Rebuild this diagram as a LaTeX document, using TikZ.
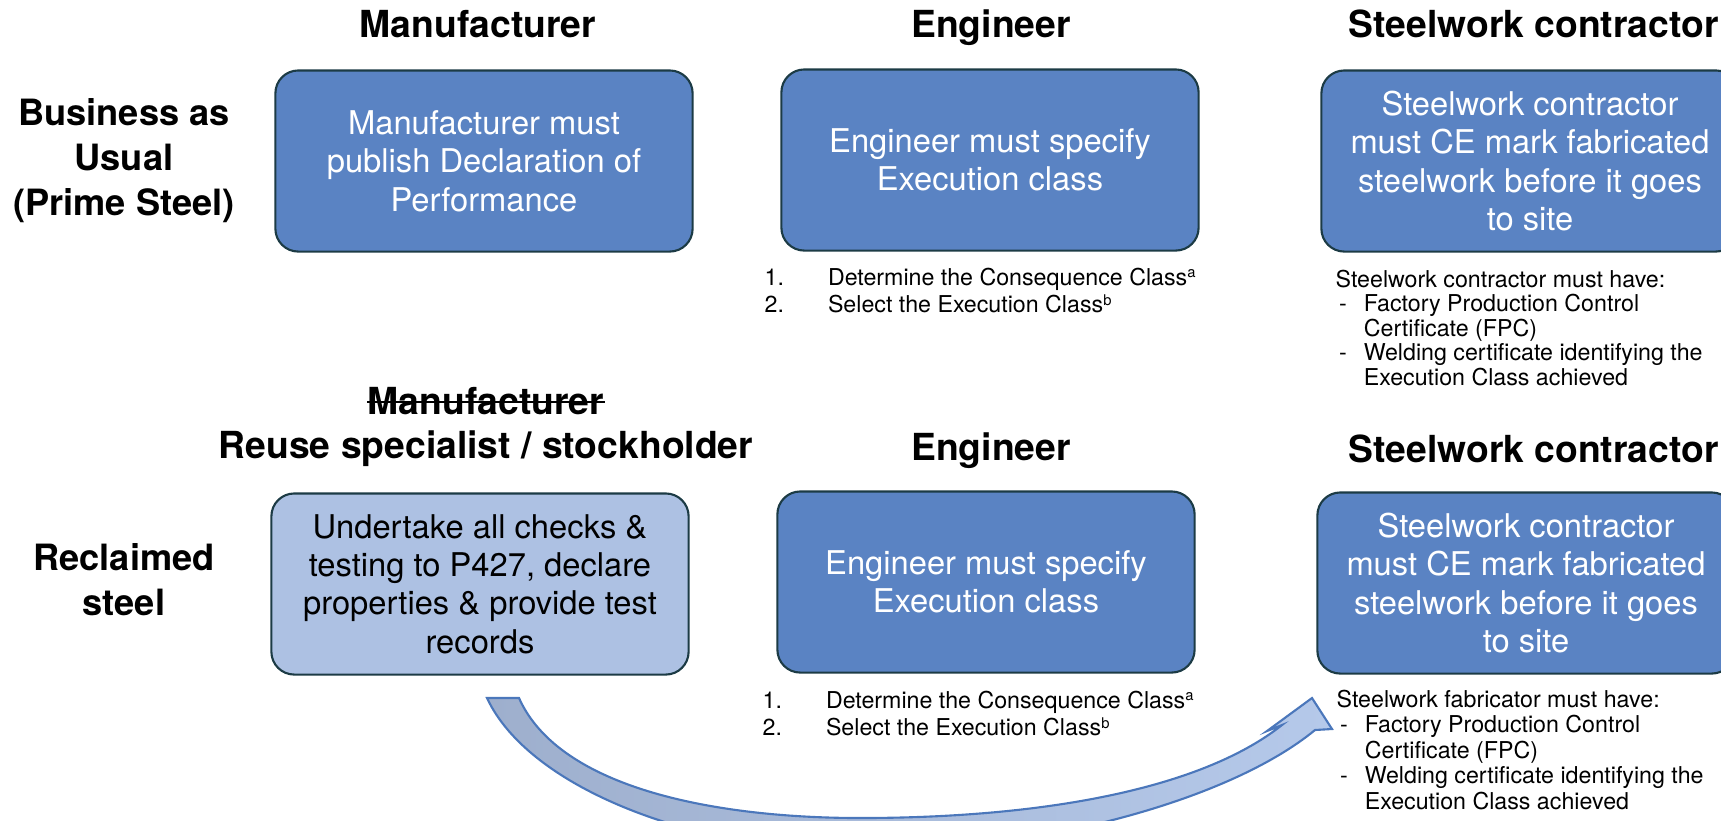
\documentclass[tikz,border=0pt]{standalone}
\usepackage{fontspec}
\setmainfont{TeX Gyre Heros}

\definecolor{boxblue}{HTML}{5A83C3}
\definecolor{boxpale}{HTML}{ADC1E3}
\definecolor{boxedge}{HTML}{1C3B45}
\definecolor{arrowedge}{HTML}{4B77BB}
\definecolor{arrowdark}{HTML}{9EAFCD}
\definecolor{arrowlight}{HTML}{B5C9EA}

\newcommand{\notesup}[1]{\raisebox{0.32em}{\fontsize{4.2}{4.2}\selectfont #1}}

\begin{document}
\begin{tikzpicture}[x=0.01cm, y=-0.01cm,
  heading/.style={font=\fontsize{10.6}{12.7}\selectfont\bfseries, inner sep=0pt, anchor=base},
  rowlabel/.style={font=\fontsize{10.3}{12.8}\selectfont\bfseries, align=center, inner sep=0pt},
  stepbox/.style={draw=boxedge, line width=0.6pt, fill=boxblue, rounded corners=6.5pt,
    text=white, align=center, minimum width=4.17cm, minimum height=1.81cm, inner sep=0pt,
    font=\fontsize{9.3}{10.9}\selectfont},
  palebox/.style={stepbox, fill=boxpale, text=black},
  note/.style={font=\fontsize{6.6}{7.0}\selectfont, align=left, inner sep=0pt, anchor=north west},
  listnote/.style={note, font=\fontsize{6.6}{7.9}\selectfont}]
  \useasboundingbox (0,0) rectangle (1721,820);

  % Column headings, top row
  \node[heading] (mfr) at (478,37) {Manufacturer};
  \node[heading] (eng) at (991,37) {Engineer};
  \node[heading, anchor=base west] (swc) at (1348,37) {Steelwork contractor};

  % Business as usual row
  \node[rowlabel] (bau) at (124,161) {Business as\\Usual\\(Prime Steel)};
  \node[stepbox] (dop) at (484,161) {Manufacturer must\\publish Declaration of\\Performance};
  \node[stepbox] (spec) at (990,160) {Engineer must specify\\Execution class};
  \node[stepbox] (cemark) at (1530,161) {Steelwork contractor\\must CE mark fabricated\\steelwork before it goes\\to site};

  % Notes under the top row
  \node[listnote] (engnote) at (764,267)
    {\makebox[18pt][l]{1.}Determine the Consequence Class\notesup{a}\\
     \makebox[18pt][l]{2.}Select the Execution Class\notesup{b}};
  \node[note] (swcnote) at (1335,269)
    {Steelwork contractor must have:\\
     \makebox[8pt][l]{\hspace{1pt}-}Factory Production Control\\
     \hspace*{8pt}Certificate (FPC)\\
     \makebox[8pt][l]{\hspace{1pt}-}Welding certificate identifying the\\
     \hspace*{8pt}Execution Class achieved};

  % Column headings, bottom row (old heading struck through)
  \node[heading] (oldmfr) at (486,414) {Manufacturer};
  \draw[line width=0.6pt] ([yshift=3.4pt]oldmfr.base west) -- ([yshift=3.4pt]oldmfr.base east);
  \node[heading] (reuse) at (486,458) {Reuse specialist / stockholder};
  \node[heading] (eng2) at (991,460) {Engineer};
  \node[heading, anchor=base west] (swc2) at (1348,462) {Steelwork contractor};

  % Reclaimed steel row
  \node[rowlabel] (recl) at (124,580) {Reclaimed\\steel};
  \node[palebox] (tests) at (480,584) {Undertake all checks \&\\testing to P427, declare\\properties \& provide test\\records};
  \node[stepbox] (spec2) at (986,582) {Engineer must specify\\Execution class};
  \node[stepbox] (cemark2) at (1526,583) {Steelwork contractor\\must CE mark fabricated\\steelwork before it goes\\to site};

  % Notes under the bottom row
  \node[listnote] (engnote2) at (762,690)
    {\makebox[18pt][l]{1.}Determine the Consequence Class\notesup{a}\\
     \makebox[18pt][l]{2.}Select the Execution Class\notesup{b}};
  \node[note, font=\fontsize{6.6}{7.25}\selectfont] (fabnote) at (1336,689)
    {Steelwork fabricator must have:\\
     \makebox[8pt][l]{\hspace{1pt}-}Factory Production Control\\
     \hspace*{8pt}Certificate (FPC)\\
     \makebox[8pt][l]{\hspace{1pt}-}Welding certificate identifying the\\
     \hspace*{8pt}Execution Class achieved};

  % Curved block arrow from the reuse specialist to the fabricator
  \draw[arrowedge, line width=0.6pt, left color=arrowdark, right color=arrowlight]
    (487,698) -- (519,698)
    .. controls (560,790) and (720,818) .. (860,818)
    .. controls (1040,818) and (1200,790) .. (1282,725)
    -- (1267,731) -- (1312,698) -- (1332,729) -- (1315,730)
    .. controls (1230,800) and (1040,852) .. (860,852)
    .. controls (700,852) and (530,790) .. (487,698) -- cycle;
\end{tikzpicture}
\end{document}
